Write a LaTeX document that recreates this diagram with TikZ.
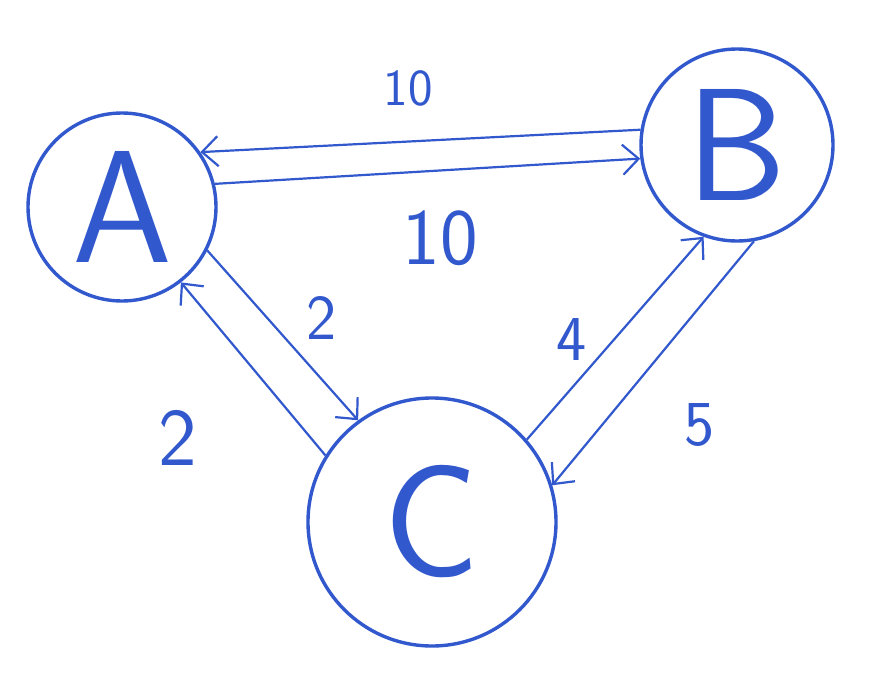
\documentclass[tikz,border=0pt]{standalone}
\usetikzlibrary{arrows.meta}
\definecolor{ink}{RGB}{50,88,205}
\begin{document}
\begin{tikzpicture}[x=1pt,y=-1pt,
  vertex/.style={circle,draw=ink,line width=3.4pt,inner sep=0pt,text=ink,font=\sffamily\fontsize{160}{160}\selectfont},
  edge/.style={draw=ink,line width=2.2pt,-{Straight Barb[length=16pt,width=30pt,line width=2.2pt]}},
  lbl/.style={text=ink,font=\sffamily\fontsize{#1}{#1}\selectfont}]
\useasboundingbox[fill=white] (0,0) rectangle (882,682);
\node[vertex,minimum size=188pt] (A) at (122,207) {A};
\node[vertex,minimum size=192pt] (B) at (737,145) {B};
\node[vertex,minimum size=248pt] (C) at (432,522) {C};
\draw[edge] (B.171) -- (A.35);
\draw[edge] (A.14) -- (B.188);
\draw[edge] (A.-27) -- (C.126);
\draw[edge] (C.148) -- (A.-52);
\draw[edge] (C.41) -- (B.-110);
\draw[edge] (B.-80) -- (C.17);
\node[lbl=52] (l1) at (408,88) {10};
\node[lbl=80] (l2) at (440,238) {10};
\node[lbl=64] (l3) at (322,318) {2};
\node[lbl=82] (l4) at (178,438) {2};
\node[lbl=64] (l5) at (572,340) {4};
\node[lbl=64] (l6) at (700,425) {5};
\end{tikzpicture}
\end{document}
